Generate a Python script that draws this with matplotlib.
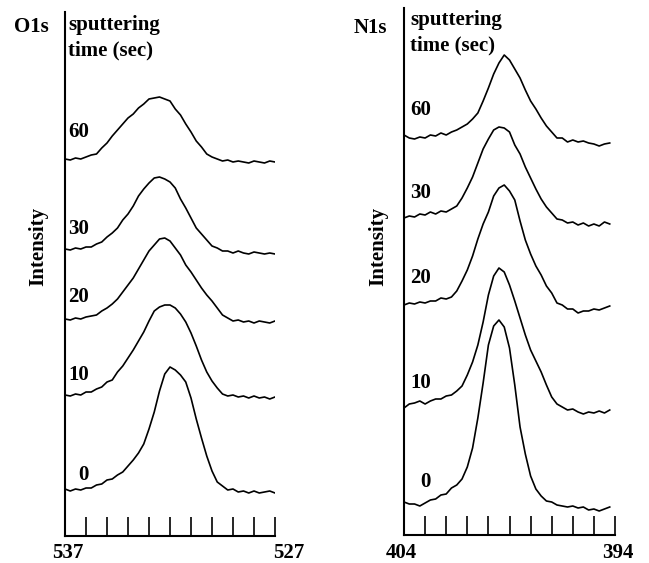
import matplotlib
matplotlib.use("Agg")
import matplotlib.pyplot as plt

plt.rcParams['font.family'] = ['Liberation Serif', 'DejaVu Serif']
plt.rcParams['font.weight'] = 'bold'

# binding energy sampling (eV), 0.25 eV steps
o1s_ev = [537.0, 536.75, 536.5, 536.25, 536.0, 535.75, 535.5, 535.25, 535.0, 534.75,
          534.5, 534.25, 534.0, 533.75, 533.5, 533.25, 533.0, 532.75, 532.5, 532.25,
          532.0, 531.75, 531.5, 531.25, 531.0, 530.75, 530.5, 530.25, 530.0, 529.75,
          529.5, 529.25, 529.0, 528.75, 528.5, 528.25, 528.0, 527.75, 527.5, 527.25,
          527.0]
n1s_ev = [404.0, 403.75, 403.5, 403.25, 403.0, 402.75, 402.5, 402.25, 402.0, 401.75,
          401.5, 401.25, 401.0, 400.75, 400.5, 400.25, 400.0, 399.75, 399.5, 399.25,
          399.0, 398.75, 398.5, 398.25, 398.0, 397.75, 397.5, 397.25, 397.0, 396.75,
          396.5, 396.25, 396.0, 395.75, 395.5, 395.25, 395.0, 394.75, 394.5, 394.25]

times = ['0', '10', '20', '30', '60']

# stacked O1s spectra (offset already applied)
o1s_spectra = {
    '0':  [47, 45, 47, 46, 48, 48, 51, 52, 56, 57, 61, 64, 70, 76, 83, 92, 107, 124, 145, 162,
           169, 166, 161, 154, 138, 117, 98, 80, 65, 54, 50, 46, 47, 44, 45, 43, 45, 43, 44, 45, 43],
    '10': [141, 140, 142, 141, 144, 144, 147, 149, 154, 156, 164, 170, 178, 186, 195, 204, 215, 225, 229, 231,
           231, 228, 222, 214, 203, 190, 176, 164, 155, 148, 142, 140, 141, 139, 140, 138, 140, 138, 139, 137, 139],
    '20': [217, 216, 218, 217, 219, 220, 221, 225, 228, 232, 237, 244, 251, 258, 267, 276, 285, 291, 297, 298,
           295, 288, 281, 271, 264, 256, 248, 241, 235, 228, 221, 218, 215, 216, 214, 215, 213, 215, 214, 213, 215],
    '30': [287, 286, 288, 287, 289, 289, 292, 294, 299, 303, 308, 316, 322, 330, 340, 347, 353, 358, 359, 357,
           354, 348, 337, 328, 318, 308, 302, 296, 290, 288, 285, 285, 283, 285, 283, 282, 284, 283, 282, 283, 282],
    '60': [377, 376, 378, 377, 379, 381, 382, 388, 393, 400, 406, 412, 418, 422, 428, 432, 437, 438, 439, 437,
           435, 427, 421, 412, 404, 395, 389, 382, 379, 377, 375, 376, 374, 375, 374, 373, 375, 374, 373, 375, 374],
}

# stacked N1s spectra (offset already applied)
n1s_spectra = {
    '0':  [33, 31, 31, 29, 32, 35, 36, 40, 41, 47, 50, 56, 68, 87, 117, 152, 190, 209, 215, 208,
           187, 150, 108, 81, 59, 46, 39, 34, 33, 30, 29, 28, 29, 27, 28, 25, 26, 24, 26, 28],
    '10': [127, 131, 132, 134, 131, 134, 136, 136, 139, 140, 144, 149, 160, 173, 190, 213, 240, 259, 267, 263,
           250, 234, 217, 200, 185, 174, 163, 150, 138, 131, 128, 125, 126, 123, 121, 123, 122, 124, 122, 125],
    '20': [230, 232, 231, 233, 232, 234, 234, 237, 236, 238, 244, 254, 265, 279, 296, 311, 323, 339, 347, 350,
           344, 335, 314, 295, 281, 269, 260, 249, 242, 232, 230, 226, 226, 222, 224, 224, 226, 225, 227, 229],
    '30': [317, 319, 318, 321, 320, 323, 321, 324, 323, 326, 329, 337, 347, 358, 372, 386, 396, 405, 408, 407,
           403, 390, 381, 368, 357, 346, 336, 328, 322, 316, 315, 312, 313, 310, 312, 309, 311, 309, 313, 311],
    '60': [400, 397, 396, 398, 397, 400, 399, 402, 400, 403, 405, 408, 411, 416, 422, 434, 447, 461, 472, 480,
           475, 466, 457, 445, 434, 426, 417, 409, 403, 397, 397, 393, 395, 393, 394, 392, 391, 389, 391, 392],
}

# where each sputtering-time label sits (eV, height)
o1s_label_pos = {'0': (536.38, 61), '10': (536.85, 161), '20': (536.85, 239),
                 '30': (536.85, 307), '60': (536.85, 404)}
n1s_label_pos = {'0': (403.24, 53), '10': (403.72, 152), '20': (403.72, 257),
                 '30': (403.72, 342), '60': (403.72, 425)}

FS = 15


def setup(ax, lo, hi, top):
    ax.set_xlim(hi, lo)
    ax.set_ylim(0, top)
    for s in ['top', 'right']:
        ax.spines[s].set_visible(False)
    ax.spines['left'].set_linewidth(1.5)
    ax.spines['bottom'].set_linewidth(1.5)
    ax.set_xticks([hi - k for k in range(1, 11)])
    ax.set_yticks([])
    ax.tick_params(axis='x', direction='in', length=13.5, width=1.2, labelbottom=False)
    ax.patch.set_alpha(0)


def btext(ax, x, y, s, **kw):
    ax.text(x, y, s, fontsize=FS, fontweight='bold', va='center', **kw)


fig = plt.figure(figsize=(6.49, 5.63), dpi=100)

# O1s panel
ax1 = fig.add_axes([65 / 649, 27 / 563, 210 / 649, 524 / 563])
setup(ax1, 527, 537, 524)
for t in times:
    ax1.plot(o1s_ev, o1s_spectra[t], color='black', lw=1.2)
    x, y = o1s_label_pos[t]
    btext(ax1, x, y, t, ha='left')
btext(ax1, 537.76, 509, 'O1s', ha='right')
btext(ax1, 536.85, 511, 'sputtering', ha='left')
btext(ax1, 536.85, 486, 'time (sec)', ha='left')
btext(ax1, 536.88, -17, '537', ha='center')
btext(ax1, 526.33, -17, '527', ha='center')
btext(ax1, 538.27, 290, 'Intensity', ha='center', rotation=90)

# N1s panel
ax2 = fig.add_axes([404 / 649, 28 / 563, 211 / 649, 527 / 563])
setup(ax2, 394, 404, 527)
for t in times:
    ax2.plot(n1s_ev, n1s_spectra[t], color='black', lw=1.2)
    x, y = n1s_label_pos[t]
    btext(ax2, x, y, t, ha='left')
btext(ax2, 404.8, 507, 'N1s', ha='right')
btext(ax2, 403.72, 515, 'sputtering', ha='left')
btext(ax2, 403.72, 490, 'time (sec)', ha='left')
btext(ax2, 404.14, -18, '404', ha='center')
btext(ax2, 393.86, -18, '394', ha='center')
btext(ax2, 405.23, 289, 'Intensity', ha='center', rotation=90)

fig.savefig('out.png', dpi=100)
